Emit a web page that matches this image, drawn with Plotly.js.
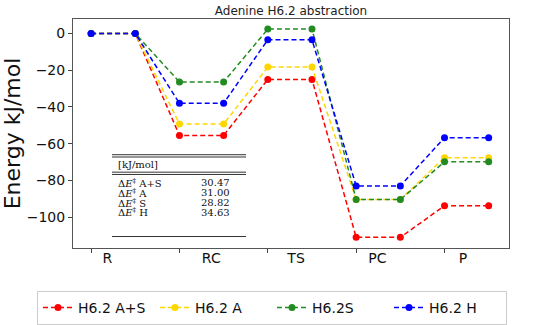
<!DOCTYPE html>
<html>
<head>
<meta charset="utf-8">
<script src="https://cdn.plot.ly/plotly-3.0.1.min.js"></script>
<style>html,body{margin:0;padding:0;background:#fff;}#chart{width:550px;height:325px;}</style>
</head>
<body>
<div id="chart"></div>
<script>
// ---- data ----
const stages = ['R', 'RC', 'TS', 'PC', 'P'];
const seriesNames = ['H6.2 A+S', 'H6.2 A', 'H6.2S', 'H6.2 H'];
const energyAS = [0, -55.5, -25.0, -111.0, -93.8];
const energyA  = [0, -49.3, -18.3, -90.4, -67.6];
const energyS  = [0, -26.4, 2.4, -90.4, -69.9];
const energyH  = [0, -38.0, -3.4, -83.0, -56.7];
const yTicks = [0, -20, -40, -60, -80, -100];
const tableHeader = '[kJ/mol]';
const tableLabels = ['A+S', 'A', 'S', 'H'];
const tableValues = ['30.47', '31.00', '28.82', '34.63'];

// ---- styling ----
const colors = ['#ff0000', '#ffd700', '#228b22', '#0000ff'];
const allSeries = [energyAS, energyA, energyS, energyH];

// each stage drawn as a flat segment: two points per stage
function expandX(n) { const xs = []; for (let i = 0; i < n; i++) { xs.push(2 * i, 2 * i + 1); } return xs; }
function expandY(v) { const ys = []; v.forEach(e => { ys.push(e, e); }); return ys; }

const traces = allSeries.map((s, k) => ({
  x: expandX(stages.length),
  y: expandY(s),
  name: seriesNames[k],
  type: 'scatter',
  mode: 'lines+markers',
  line: { color: colors[k], width: 1.5, dash: '5px,3px' },
  marker: { color: colors[k], size: 7 },
  xaxis: 'x', yaxis: 'y'
}));

// invisible trace carrying the stage labels on an overlaid axis
const stageTickPos = stages.map((s, i) => 2 * i + [0.37, 0.72, 0.64, 0.48, 0.42][i]);
traces.push({ x: stageTickPos, y: stageTickPos.map(() => 0), xaxis: 'x2', yaxis: 'y', mode: 'markers',
  marker: { opacity: 0 }, showlegend: false, hoverinfo: 'skip' });

// plot geometry (px)
const L = 73, R = 41, T = 18.5, B = 77, W = 550, H = 325;
const pw = W - L - R, ph = H - T - B;
const px = x => (x - L) / pw;
const py = y => (H - B - y) / ph;

const annotations = [];
const shapes = [];
const tx0 = 112, tx1 = 246;
function hline(y, w) { shapes.push({ type: 'line', xref: 'paper', yref: 'paper', x0: px(tx0), x1: px(tx1), y0: py(y), y1: py(y), line: { color: '#333', width: w } }); }
hline(154.5, 1); hline(156.8, 1); hline(172, 1); hline(174.3, 1); hline(236.5, 1);
const tfont = { family: 'DejaVu Serif, Liberation Serif, serif', size: 10, color: '#111' };
annotations.push({ xref: 'paper', yref: 'paper', x: px(116), y: py(164.5), text: tableHeader, showarrow: false, xanchor: 'left', yanchor: 'middle', font: tfont });
const rowY = [182.5, 192.5, 202.5, 212.3];
tableLabels.forEach((lab, i) => {
  annotations.push({ xref: 'paper', yref: 'paper', x: px(116), y: py(rowY[i]), text: 'Δ<i>E</i><sup>‡</sup> ' + lab, showarrow: false, xanchor: 'left', yanchor: 'middle', font: tfont });
  annotations.push({ xref: 'paper', yref: 'paper', x: px(232), y: py(rowY[i]), text: tableValues[i], showarrow: false, xanchor: 'right', yanchor: 'middle', font: tfont });
});

const layout = {
  width: W, height: H,
  margin: { l: L, r: R, t: T, b: B, pad: 0, autoexpand: false },
  paper_bgcolor: '#fff', plot_bgcolor: '#fff',
  font: { family: 'DejaVu Sans, sans-serif', color: '#111' },
  title: { text: 'Adenine H6.2 abstraction', font: { size: 12, family: 'DejaVu Sans, sans-serif', color: '#222' }, x: 0.5, xref: 'paper', xanchor: 'center', y: 1 - 10.5 / H, yanchor: 'middle' },
  xaxis: { range: [-0.41, 9.46], tickvals: [0, 2, 4, 6, 8], showticklabels: false, ticks: 'outside', ticklen: 4, tickcolor: '#444',
    showgrid: false, zeroline: false, showline: true, mirror: true, linecolor: '#555', linewidth: 1 },
  xaxis2: { range: [-0.41, 9.46], overlaying: 'x', side: 'bottom', tickvals: stageTickPos, ticktext: stages, ticks: '', ticklen: 0,
    showgrid: false, zeroline: false, showline: false, tickfont: { size: 14, color: '#111' } },
  yaxis: { range: [-116.8, 7.9], tickvals: yTicks, ticks: 'outside', ticklen: 4, tickcolor: '#444', tickfont: { size: 14, color: '#111' },
    showgrid: false, zeroline: false, showline: true, mirror: true, linecolor: '#555', linewidth: 1,
    title: { text: 'Energy kJ/mol', font: { size: 22, color: '#111' }, standoff: 3 } },
  showlegend: true,
  legend: { orientation: 'h', xref: 'paper', x: px(37), xanchor: 'left', yref: 'paper', y: py(291), yanchor: 'top',
    bordercolor: '#ccc', borderwidth: 1,
    font: { size: 14, color: '#111' }, bgcolor: '#fff', itemwidth: 30, tracegroupgap: 0,
    entrywidth: 72, entrywidthmode: 'pixels' },
  annotations: annotations,
  shapes: shapes
};

Plotly.newPlot('chart', traces, layout, { displayModeBar: false, staticPlot: true });
</script>
</body>
</html>
